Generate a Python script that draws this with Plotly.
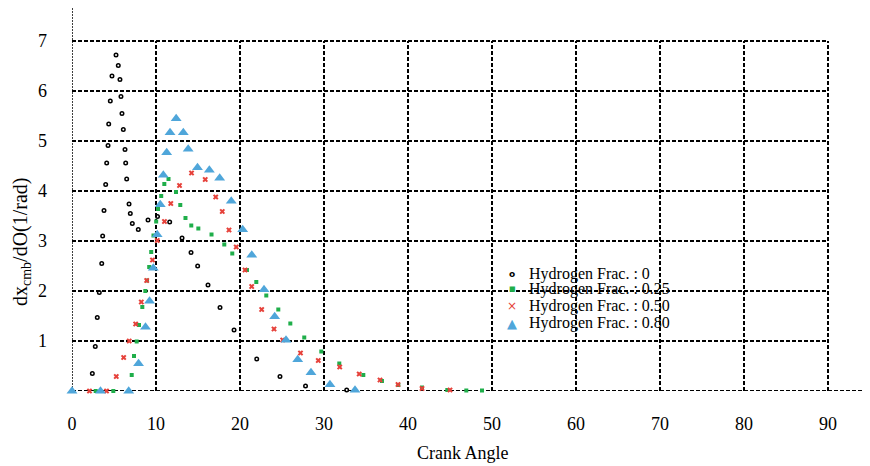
import plotly.graph_objects as go

# ---------------- data ----------------
x_tick_vals = [0, 10, 20, 30, 40, 50, 60, 70, 80, 90]
y_tick_vals = [1, 2, 3, 4, 5, 6, 7]

series_names = ["Hydrogen Frac. : 0", "Hydrogen Frac. : 0.25",
                "Hydrogen Frac. : 0.50", "Hydrogen Frac. : 0.80"]

h0_x = [2.42, 2.77, 3.01, 3.25, 3.54, 3.65, 3.81, 4.01, 4.13, 4.29, 4.37, 4.56, 4.76, 5.24,
        5.51, 5.71, 5.83, 5.95, 6.11, 6.31, 6.39, 6.51, 6.79, 6.94, 7.18, 7.89, 9.05, 10.18,
        11.63, 13.10, 14.17, 14.96, 16.19, 17.62, 19.29, 21.99, 24.76, 27.80, 32.70]
h0_y = [0.35, 0.89, 1.47, 1.97, 2.55, 3.10, 3.61, 4.13, 4.56, 4.91, 5.34, 5.80, 6.30, 6.72,
        6.51, 6.23, 5.89, 5.55, 5.23, 4.83, 4.56, 4.24, 3.74, 3.55, 3.35, 3.23, 3.42, 3.49,
        3.38, 3.06, 2.77, 2.50, 2.12, 1.67, 1.22, 0.64, 0.29, 0.10, 0.02]

h25_x = [2.82, 4.92, 7.11, 7.38, 7.70, 7.98, 8.37, 8.73, 8.93, 9.19, 9.43, 9.70, 10.02, 10.24,
         10.62, 10.99, 11.49, 12.38, 12.89, 13.51, 14.20, 15.04, 16.61, 18.13, 19.08, 20.83,
         21.94, 23.13, 24.56, 25.99, 27.65, 29.68, 31.82, 34.68, 36.90, 38.85, 41.67, 44.68,
         46.94, 48.81]
h25_y = [0.0, 0.0, 0.32, 0.70, 0.99, 1.32, 1.68, 2.00, 2.21, 2.48, 2.78, 3.11, 3.39, 3.64,
         3.90, 4.14, 4.24, 3.98, 3.72, 3.46, 3.31, 3.25, 3.13, 2.93, 2.75, 2.42,
         2.18, 1.91, 1.63, 1.35, 1.07, 0.79, 0.55, 0.32, 0.20, 0.12, 0.07, 0.02,
         0.01, 0.01]

h50_x = [2.08, 4.11, 5.27, 6.15, 6.81, 7.58, 8.25, 8.89, 9.58, 10.15, 11.01, 11.76, 12.80,
         14.23, 15.86, 17.11, 17.89, 18.69, 19.55, 20.60, 21.39, 22.58, 24.05, 25.08, 27.20,
         29.32, 31.87, 34.19, 36.67, 38.81, 41.67, 45.00]
h50_y = [0.0, 0.0, 0.29, 0.67, 1.00, 1.34, 1.78, 2.21, 2.62, 3.01, 3.39, 3.75, 4.11,
         4.36, 4.23, 3.88, 3.59, 3.22, 2.88, 2.42, 2.09, 1.63, 1.24, 1.02, 0.76,
         0.61, 0.48, 0.34, 0.22, 0.13, 0.05, 0.02]

h80_x = [0.0, 3.39, 6.75, 7.92, 8.75, 9.23, 9.68, 10.14, 10.51, 10.87, 11.27, 11.67, 12.40,
         13.25, 13.83, 14.94, 16.35, 17.58, 18.96, 20.32, 21.40, 22.86, 24.13, 25.48, 26.87,
         28.45, 30.71, 33.69]
h80_y = [0.0, 0.0, 0.0, 0.55, 1.28, 1.80, 2.46, 3.13, 3.73, 4.32, 4.77, 5.17, 5.45,
         5.17, 4.84, 4.47, 4.42, 4.26, 3.80, 3.23, 2.72, 2.03, 1.49, 1.02, 0.63,
         0.37, 0.13, 0.02]

# ---------------- styles ----------------
FONT = "Liberation Serif"
GREEN = "#1fae4a"
RED = "#e6423b"
BLUE = "#4fa6da"

markers = [
    dict(symbol="circle-open", size=3.5, color="black", line=dict(width=1.5, color="black")),
    dict(symbol="square", size=4, color=GREEN, line=dict(width=0)),
    dict(symbol="x", size=5, color=RED, line=dict(width=0)),
    dict(symbol="triangle-up", size=9.5, color=BLUE, line=dict(width=0)),
]
xs_all = [h0_x, h25_x, h50_x, h80_x]
ys_all = [h0_y, h25_y, h50_y, h80_y]

fig = go.Figure()
for name, xs, ys, mk in zip(series_names, xs_all, ys_all, markers):
    fig.add_trace(go.Scatter(x=xs, y=ys, mode="markers", name=name, marker=mk,
                             showlegend=False, cliponaxis=False))

# grid lines (only over the tick span) and axis lines
grid_line = dict(color="black", width=2, dash="4px,2px")
for yv in y_tick_vals:
    fig.add_shape(type="line", xref="x", yref="y", x0=x_tick_vals[0], x1=x_tick_vals[-1],
                  y0=yv, y1=yv, line=grid_line, layer="below")
for xv in x_tick_vals[1:]:
    fig.add_shape(type="line", xref="x", yref="y", x0=xv, x1=xv,
                  y0=0, y1=y_tick_vals[-1], line=grid_line, layer="below")
fig.add_shape(type="line", xref="paper", yref="y", x0=0, x1=1, y0=0, y1=0,
              line=grid_line, layer="below")
fig.add_shape(type="line", xref="x", yref="paper", x0=0, x1=0, y0=0, y1=1,
              line=dict(color="black", width=1.5, dash="2px,1px"), layer="below")

# legend drawn as text (entries overlap in the reference)
leg_syms = ["<b>o</b>", "■", "×", "▲"]
leg_cols = ["black", GREEN, RED, BLUE]
leg_sizes = [9, 7, 12, 13]
leg_y = [0.305, 0.2655, 0.222, 0.1775]
for name, sym, col, sz, yy in zip(series_names, leg_syms, leg_cols, leg_sizes, leg_y):
    fig.add_annotation(xref="paper", yref="paper", x=0.5514, y=yy, text=sym,
                       showarrow=False, xanchor="center", yanchor="middle",
                       font=dict(family="DejaVu Sans", size=sz, color=col))
    fig.add_annotation(xref="paper", yref="paper", x=0.5702, y=yy, text=name,
                       showarrow=False, xanchor="left", yanchor="middle",
                       font=dict(family=FONT, size=16, color="black"))

# axis titles
fig.add_annotation(xref="paper", yref="paper", x=0.49, y=-0.162, text="Crank Angle",
                   showarrow=False, xanchor="center", yanchor="middle",
                   font=dict(family=FONT, size=18, color="black"))
fig.add_annotation(xref="paper", yref="paper", x=-0.0639, y=0.389,
                   text="dx<sub>cmb</sub>/dO(1/rad)", textangle=-90,
                   showarrow=False, xanchor="center", yanchor="middle",
                   font=dict(family=FONT, size=20, color="black"))

# the page body adds an 8px offset, so the figure is 8px smaller with margins shifted
fig.update_layout(
    width=862, height=458,
    margin=dict(l=64, r=0, t=0, b=75, autoexpand=False),
    paper_bgcolor="white", plot_bgcolor="white",
    font=dict(family=FONT, size=18, color="black"),
    xaxis=dict(range=[0, 95], tickvals=x_tick_vals, showgrid=False, zeroline=False,
               showline=False, ticks="", ticklabelstandoff=20, automargin=False,
               tickfont=dict(family=FONT, size=18, color="black")),
    yaxis=dict(range=[0, 7.66], tickvals=y_tick_vals, showgrid=False, zeroline=False,
               showline=False, ticks="", ticklabelstandoff=24, automargin=False,
               tickfont=dict(family=FONT, size=18, color="black")),
)

fig.write_html("out.html")
